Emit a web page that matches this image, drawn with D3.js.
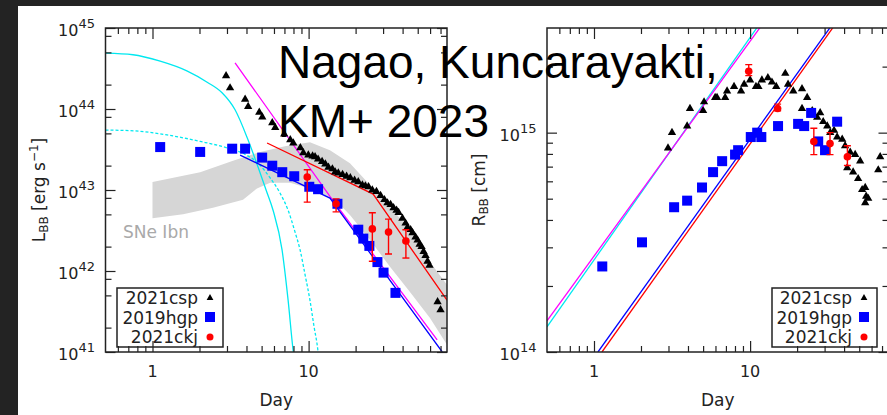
<!DOCTYPE html>
<html>
<head>
<meta charset="utf-8">
<script src="https://cdn.jsdelivr.net/npm/d3@7"></script>
<style>
	html, body { margin: 0; background: #fff; overflow: hidden; }
	svg { display: block; }
</style>
</head>
<body>
<svg id="chart" width="887" height="415"></svg>
<script>
// Values. Each pair is [day, log10 value].
// Left panel: blackbody luminosity L_BB [erg/s]
const cspLum = [[2.96,44.41],[3.14,44.26],[3.92,44.12],[4.10,44.03],[4.83,43.96],[5.05,43.90],[5.85,43.83],[6.11,43.77],
	[6.98,43.69],[7.63,43.62],[7.98,43.58],[8.85,43.52],[9.25,43.46],[9.96,43.43],[10.6,43.42],[11.0,43.41],[11.5,43.38],
	[12.2,43.35],[12.8,43.32],[13.4,43.28],[14.2,43.26],[14.8,43.22],[15.5,43.21],[16.5,43.19],[17.5,43.17],[18.5,43.15],
	[19.7,43.12],[20.8,43.10],[22.1,43.06],[23.1,43.05],[24.2,43.04],[25.6,43.00],[27.2,42.98],[28.9,42.93],[30.6,42.88],
	[32.0,42.84],[33.5,42.82],[35.0,42.78],[36.6,42.75],[37.7,42.72],[39.9,42.65],[41.8,42.59],[43.0,42.54],[45.0,42.51],
	[46.3,42.47],[48.4,42.42],[49.9,42.38],[51.4,42.33],[52.9,42.30],[54.5,42.24],[56.1,42.19],[57.8,42.12],[59.5,42.07],
	[67.0,41.62],[70.0,41.52]];
const hgpLum = [[1.12,43.53],[2.02,43.47],[3.24,43.51],[3.92,43.51],[5.04,43.40],[5.85,43.30],[6.78,43.22],[8.09,43.17],
	[10.1,43.04],[11.5,43.01],[15.3,42.83],[20.8,42.51],[22.4,42.40],[24.5,42.31],[27.6,42.11],[30.2,41.98],[36.0,41.73]];
// [day, value, lower, upper]
const ckjLum = [[9.8,43.16,42.85,43.25],[15.0,42.83,42.73,42.89],[25.6,42.52,42.12,42.72],[32.5,42.48,42.21,42.64],[42.0,42.37,42.16,42.51]];

// model curves in the left panel
const cyanSolidLum = [[0.5,44.69],[0.75,44.67],[1.12,44.59],[1.66,44.47],[2.24,44.33],[2.79,44.20],[3.38,43.99],[4.09,43.62],
	[4.75,43.28],[5.34,43.00],[5.92,42.75],[6.76,42.26],[7.39,41.64],[7.96,41.02],[8.3,40.78]];
const cyanDashLum = [[0.5,43.74],[0.77,43.73],[1.24,43.68],[2.02,43.60],[3.0,43.52],[3.92,43.44],[4.75,43.33],[5.67,43.15],
	[6.57,42.96],[7.39,42.75],[8.19,42.48],[8.82,42.26],[9.5,41.95],[10.2,41.64],[10.8,41.33],[11.5,41.0],[11.8,40.78]];
const magentaLum = [[3.38,44.57],[13.7,42.92],[66.6,41.15]];
const blueLum = [[3.64,43.43],[13.7,42.90],[71.8,41.0]];
const redLum = [[5.42,43.58],[25.9,42.95],[77,41.64]];

// SNe Ibn template band
const ibnUpper = [[1.0,43.10],[2.02,43.22],[3.28,43.36],[4.89,43.47],[7.06,43.54],[10.2,43.59],[13.7,43.49],[18.4,43.33],
	[24.8,43.06],[33.3,42.79],[44.6,42.51],[59.9,42.11],[77,41.83]];
const ibnLower = [[1.0,42.65],[1.57,42.70],[2.44,42.78],[3.8,42.88],[4.67,43.02],[5.67,43.09],[7.6,43.09],[11.0,43.00],
	[14.8,42.88],[18.4,42.69],[24.8,42.38],[33.3,42.05],[44.6,41.74],[59.9,41.42],[77,41.09]];

// Right panel: blackbody radius R_BB [cm]
const cspRad = [[2.98,14.93],[3.16,15.00],[3.95,15.03],[4.12,15.11],[5.00,15.10],[5.07,15.14],[5.97,15.16],[6.14,15.16],
	[6.92,15.16],[7.12,15.19],[7.89,15.21],[8.75,15.19],[9.16,15.22],[10.0,15.24],[10.9,15.21],[11.3,15.21],[11.9,15.24],
	[13.0,15.25],[13.8,15.23],[14.7,15.21],[16.8,15.27],[17.5,15.22],[18.9,15.19],[21.5,15.20],[23.2,15.16],[21.5,15.11],
	[25.0,15.10],[26.9,15.07],[28.1,15.09],[29.4,15.05],[31.2,15.03],[32.6,15.00],[34.5,15.01],[36.1,14.98],[38.9,14.97],
	[40.6,14.94],[41.9,14.84],[43.8,14.91],[45.7,14.82],[47.1,14.90],[49.2,14.79],[50.7,14.87],[52.2,14.74],[54.6,14.75],
	[55.4,14.71],[54.6,14.68],[57.1,14.70],[66.2,14.83],[68.1,14.89]];
const hgpRad = [[1.13,14.39],[2.03,14.50],[3.26,14.66],[3.95,14.69],[4.92,14.75],[5.79,14.82],[6.62,14.87],[8.01,14.90],
	[8.38,14.92],[10.1,14.98],[11.1,15.00],[11.8,14.98],[15.1,15.03],[20.3,15.04],[22.2,15.03],[24.6,15.09],[27.3,14.96],
	[30.2,14.92],[36.1,15.05]];
const ckjRad = [[9.8,15.28,15.26,15.31],[15.0,15.11,15.10,15.13],[25.6,14.96,14.90,15.02],[32.5,14.95,14.90,15.00],[42.0,14.89,14.85,14.94]];

const cyanRad = [[0.5,14.114],[11.1,15.48]];
const magentaRad = [[0.5,14.142],[11.6,15.48]];
const blueRad = [[1.06,14.0],[32.6,15.48]];
const redRad = [[1.125,14.0],[34.0,15.48]];

// ticks
const dayMajor = [1, 10];
const dayMinor = [0.6, 0.7, 0.8, 0.9, 2, 3, 4, 5, 6, 7, 8, 9, 20, 30, 40, 50, 60, 70];
const lumDecades = [41, 42, 43, 44, 45];
const lumMinorSteps = [2, 5, 8];
const radDecades = [14, 15];
const radMinor = [2e14, 3e14, 4e14, 5e14, 6e14, 7e14, 8e14, 9e14, 2e15];

const legendNames = ["2021csp", "2019hgp", "2021ckj"];

(function() {

	const svg = d3.select("#chart");
	const font = "'DejaVu Sans', sans-serif";
	const ink = "#222";
	const pw = v => Math.pow(10, v);

	// slide background: dark strip only on the top and left
	svg.append("rect").attr("width", 887).attr("height", 415).attr("fill", "#232323");
	svg.append("rect").attr("x", 18).attr("y", 6).attr("width", 880).attr("height", 420).attr("fill", "#fff");

	const xL = d3.scaleLog().domain([0.5, 77]).range([105.5, 447]);
	const yL = d3.scaleLog().domain([1e41, 1e45]).range([352, 28]);
	const xR = d3.scaleLog().domain([0.5, 77]).range([547, 888.5]);
	const yR = d3.scaleLog().domain([1e14, 3e15]).range([352, 28]);

	const defs = svg.append("defs");
	addClip("clipL", xL, yL);
	addClip("clipR", xR, yR);

	// ---------- left panel ----------
	let plot = svg.append("g").attr("clip-path", "url(#clipL)");
	let line = makeLine(xL, yL);

	// gray band of SNe Ibn
	plot.append("path")
		.attr("d", line(ibnUpper.concat(ibnLower.slice().reverse())) + "Z")
		.attr("fill", "#d6d6d6");

	plot.append("path").attr("d", makeLine(xL, yL, d3.curveMonotoneX)(cyanSolidLum))
		.attr("fill", "none").attr("stroke", "#00e8f0").attr("stroke-width", 1.3);
	plot.append("path").attr("d", makeLine(xL, yL, d3.curveMonotoneX)(cyanDashLum))
		.attr("fill", "none").attr("stroke", "#00e8f0").attr("stroke-width", 1.3)
		.attr("stroke-dasharray", "3,2");
	drawLine(plot, line(magentaLum), "#ff00ff");
	drawLine(plot, line(redLum), "#ff0000");
	drawLine(plot, line(blueLum), "#0000ff");

	drawPoints(plot, xL, yL, cspLum, hgpLum, ckjLum);

	drawTicks(xL, yL, lumDecades.map(pw),
		lumDecades.slice(0, -1).flatMap(e => lumMinorSteps.map(m => m * pw(e))));
	drawFrame(xL, yL);
	drawLabels(xL, yL, lumDecades, "L", "BB", [" [erg s", "\u22121", "]"], 45);

	svg.append("text")
		.attr("x", 123).attr("y", 238)
		.attr("font-family", font).attr("font-size", 17)
		.attr("fill", "#a9a9a9")
		.text("SNe Ibn");

	drawLegend(117, 223);

	// ---------- right panel ----------
	plot = svg.append("g").attr("clip-path", "url(#clipR)");
	line = makeLine(xR, yR);
	drawLine(plot, line(cyanRad), "#00e8f0");
	drawLine(plot, line(magentaRad), "#ff00ff");
	drawLine(plot, line(redRad), "#ff0000");
	drawLine(plot, line(blueRad), "#0000ff");

	drawPoints(plot, xR, yR, cspRad, hgpRad, ckjRad);

	drawTicks(xR, yR, radDecades.map(pw), radMinor);
	drawFrame(xR, yR);
	drawLabels(xR, yR, radDecades, "R", "BB", [" [cm]"], 485);

	drawLegend(772, 877);

	// slide text on top of everything
	const title = svg.append("text")
		.attr("font-family", "'Liberation Sans', Arial, sans-serif")
		.attr("font-size", 46)
		.attr("fill", "#000");
	title.append("tspan").attr("x", 278).attr("y", 78).text("Nagao, Kuncarayakti,");
	title.append("tspan").attr("x", 278).attr("y", 137).text("KM+ 2023");


	function addClip(name, x, y) {
		defs.append("clipPath").attr("id", name)
			.append("rect")
			.attr("x", x.range()[0]).attr("y", y.range()[1])
			.attr("width", x.range()[1] - x.range()[0])
			.attr("height", y.range()[0] - y.range()[1]);
	}

	function makeLine(x, y, curve) {
		return d3.line()
			.x(d => x(d[0]))
			.y(d => y(pw(d[1])))
			.curve(curve || d3.curveLinear);
	}

	function drawLine(g, d, color) {
		g.append("path").attr("d", d)
			.attr("fill", "none")
			.attr("stroke", color)
			.attr("stroke-width", 1.3);
	}

	function drawPoints(g, x, y, tri, sq, dots) {
		const triangle = d3.symbol().type(d3.symbolTriangle).size(30);
		g.selectAll(null).data(tri).enter().append("path")
			.attr("d", triangle)
			.attr("transform", d => "translate(" + x(d[0]) + "," + y(pw(d[1])) + ")")
			.attr("fill", "#000");

		g.selectAll(null).data(sq).enter().append("rect")
			.attr("x", d => x(d[0]) - 5)
			.attr("y", d => y(pw(d[1])) - 5)
			.attr("width", 10).attr("height", 10)
			.attr("fill", "#0000ff");

		// error bars with small caps
		const bars = g.selectAll(null).data(dots).enter().append("g")
			.attr("stroke", "#ff0000").attr("stroke-width", 1.4);
		bars.append("line")
			.attr("x1", d => x(d[0])).attr("x2", d => x(d[0]))
			.attr("y1", d => y(pw(d[2]))).attr("y2", d => y(pw(d[3])));
		bars.append("line")
			.attr("x1", d => x(d[0]) - 3.5).attr("x2", d => x(d[0]) + 3.5)
			.attr("y1", d => y(pw(d[2]))).attr("y2", d => y(pw(d[2])));
		bars.append("line")
			.attr("x1", d => x(d[0]) - 3.5).attr("x2", d => x(d[0]) + 3.5)
			.attr("y1", d => y(pw(d[3]))).attr("y2", d => y(pw(d[3])));
		g.selectAll(null).data(dots).enter().append("circle")
			.attr("cx", d => x(d[0]))
			.attr("cy", d => y(pw(d[1])))
			.attr("r", 3.8)
			.attr("fill", "#ff0000");
	}

	function tickGroup(axis, translate, size) {
		svg.append("g")
			.attr("transform", translate)
			.attr("color", ink)
			.call(axis.tickSize(-size).tickFormat(""))
			.call(a => a.select(".domain").remove())
			.selectAll("line").attr("stroke-width", 1.2);
	}

	// inward ticks on all four sides, gnuplot style
	function drawTicks(x, y, yMajor, yMinor) {
		const [x0, x1] = x.range();
		const [y1, y0] = y.range();
		[[d3.axisBottom, y1], [d3.axisTop, y0]].forEach(([fn, pos]) => {
			tickGroup(fn(x).tickValues(dayMajor), "translate(0," + pos + ")", 11);
			tickGroup(fn(x).tickValues(dayMinor), "translate(0," + pos + ")", 6);
		});
		[[d3.axisLeft, x0], [d3.axisRight, x1]].forEach(([fn, pos]) => {
			tickGroup(fn(y).tickValues(yMajor), "translate(" + pos + ",0)", 10);
			tickGroup(fn(y).tickValues(yMinor), "translate(" + pos + ",0)", 6);
		});
	}

	function drawFrame(x, y) {
		svg.append("rect")
			.attr("x", x.range()[0]).attr("y", y.range()[1])
			.attr("width", x.range()[1] - x.range()[0])
			.attr("height", y.range()[0] - y.range()[1])
			.attr("fill", "none")
			.attr("stroke", ink)
			.attr("stroke-width", 1.5);
	}

	function drawLabels(x, y, decades, sym, sub, rest, titleX) {
		const base = y.range()[0];

		// day labels
		svg.selectAll(null).data(dayMajor).enter().append("text")
			.attr("x", d => x(d)).attr("y", base + 25)
			.attr("text-anchor", "middle")
			.attr("font-family", font).attr("font-size", 16)
			.attr("fill", ink)
			.text(d => d);

		// powers of ten
		const labels = svg.selectAll(null).data(decades).enter().append("text")
			.attr("x", x.range()[0] - 10.5)
			.attr("y", d => y(pw(d)) + 8)
			.attr("text-anchor", "end")
			.attr("font-family", font).attr("font-size", 16)
			.attr("fill", ink);
		labels.append("tspan").text("10");
		labels.append("tspan").attr("dy", -8).attr("font-size", 13).text(d => d);

		svg.append("text")
			.attr("x", (x.range()[0] + x.range()[1]) / 2).attr("y", 406)
			.attr("text-anchor", "middle")
			.attr("font-family", font).attr("font-size", 17)
			.attr("fill", ink)
			.text("Day");

		const t = svg.append("text")
			.attr("transform", "translate(" + titleX + ",190) rotate(-90)")
			.attr("text-anchor", "middle")
			.attr("font-family", font).attr("font-size", 17)
			.attr("fill", ink);
		t.append("tspan").text(sym);
		t.append("tspan").attr("dy", 3).attr("font-size", 12).text(sub);
		t.append("tspan").attr("dy", -3).text(rest[0]);
		if (rest.length > 1) {
			t.append("tspan").attr("dy", -7).attr("font-size", 12).text(rest[1]);
			t.append("tspan").attr("dy", 7).text(rest[2]);
		}
	}

	function drawLegend(left, right) {
		svg.append("rect")
			.attr("x", left).attr("y", 288)
			.attr("width", right - left).attr("height", 59)
			.attr("fill", "none")
			.attr("stroke", ink)
			.attr("stroke-width", 1.5);

		svg.selectAll(null).data(legendNames).enter().append("text")
			.attr("x", right - 25)
			.attr("y", (d, i) => 304 + i * 19.5)
			.attr("text-anchor", "end")
			.attr("font-family", font).attr("font-size", 17)
			.attr("fill", ink)
			.text(d => d);

		const sx = right - 13;
		svg.append("path")
			.attr("d", d3.symbol().type(d3.symbolTriangle).size(20)())
			.attr("transform", "translate(" + sx + ",298)")
			.attr("fill", "#000");
		svg.append("rect")
			.attr("x", sx - 5).attr("y", 312)
			.attr("width", 10).attr("height", 10)
			.attr("fill", "#0000ff");
		svg.append("circle")
			.attr("cx", sx).attr("cy", 337).attr("r", 3.5)
			.attr("fill", "#ff0000");
	}
})();
</script>
</body>
</html>
